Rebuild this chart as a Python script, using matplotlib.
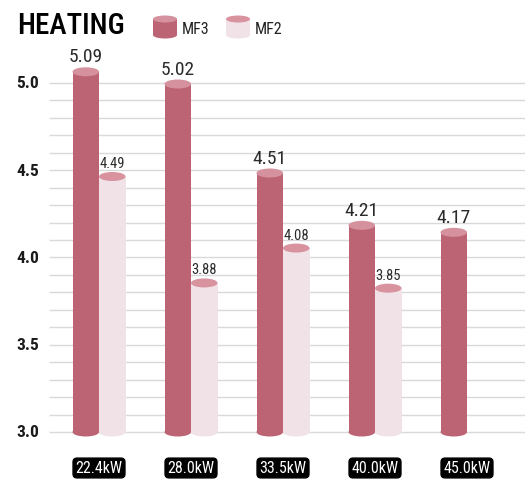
import matplotlib
matplotlib.use("Agg")
import matplotlib.pyplot as plt
from matplotlib import font_manager
from matplotlib.patches import Rectangle, Ellipse
import numpy as np

categories = ["22.4kW", "28.0kW", "33.5kW", "40.0kW", "45.0kW"]
mf3 = [5.09, 5.02, 4.51, 4.21, 4.17]
mf2 = [4.49, 3.88, 4.08, 3.85, None]
series_names = ["MF3", "MF2"]
y_ticks = [3.0, 3.5, 4.0, 4.5, 5.0]

MF3_BODY = "#bd6474"
MF3_TOP = "#d5919d"
MF2_BODY = "#f0e2e7"
MF2_TOP = "#d8939f"
GRID = "#d9d9d9"

# pick a narrow face if the system has one
available = {f.name for f in font_manager.fontManager.ttflist}
narrow = "DejaVu Sans"
for name in ["Roboto Condensed", "Liberation Sans Narrow", "DejaVu Sans Condensed", "Open Sans Condensed"]:
    if name in available:
        narrow = name
        break
plt.rcParams["font.family"] = [narrow, "DejaVu Sans"]

W, H, DPI = 525, 481, 100
fig = plt.figure(figsize=(W / DPI, H / DPI), dpi=DPI)

# plot area in pixel terms
ax_left, ax_right, ax_top, ax_bottom = 49, 525, 40, 450
ax = fig.add_axes([ax_left / W, 1 - ax_bottom / H, (ax_right - ax_left) / W, (ax_bottom - ax_top) / H])

px_per_cat = 92.0
px_per_unit = 174.5
x0_px = 99  # centre of first group
xlim = ((ax_left - x0_px) / px_per_cat, (ax_right - x0_px) / px_per_cat)
ylim = (3.0 - (ax_bottom - 433) / px_per_unit, 5.0 + (84 - ax_top) / px_per_unit)
ax.set_xlim(*xlim)
ax.set_ylim(*ylim)
ax.axis("off")

# horizontal grid every 0.1
for g in np.arange(3.0, 5.0001, 0.1):
    ax.plot(xlim, [g, g], color=GRID, lw=1.0, zorder=0, solid_capstyle="butt")

bar_w = 26.5 / px_per_cat
ell_h = 9.0 / px_per_unit


def cylinder(xc, value, body, top, zorder=2):
    # the top cap's upper edge sits on the value
    top_c = value - ell_h / 2
    ax.add_patch(Ellipse((xc, 3.0), bar_w, ell_h, facecolor=body, edgecolor="none", zorder=zorder))
    ax.add_patch(Rectangle((xc - bar_w / 2, 3.0), bar_w, top_c - 3.0, facecolor=body,
                           edgecolor="none", zorder=zorder))
    ax.add_patch(Ellipse((xc, top_c), bar_w, ell_h, facecolor=top, edgecolor="none", zorder=zorder + 0.1))


x = np.arange(len(categories))
for i, (a, b) in enumerate(zip(mf3, mf2)):
    xa = x[i] - bar_w / 2
    xb = x[i] + bar_w / 2
    cylinder(xa, a, MF3_BODY, MF3_TOP)
    ax.text(xa, a + 2 / px_per_unit, f"{a:.2f}", ha="center", va="bottom",
            fontsize=14, color="#2a2a2a")
    if b is not None:
        cylinder(xb, b, MF2_BODY, MF2_TOP)
        ax.text(xb, b + 2 / px_per_unit, f"{b:.2f}", ha="center", va="bottom",
                fontsize=10.5, color="#2a2a2a")
    ax.text(x[i], ylim[0] - 19 / px_per_unit, categories[i], ha="center", va="center",
            fontsize=11.5, color="white", clip_on=False,
            bbox=dict(boxstyle="round,pad=0.15,rounding_size=0.25", fc="black", ec="black"))

for t in y_ticks:
    ax.text(xlim[0] - 10 / px_per_cat, t, f"{t:.1f}", ha="right", va="center",
            fontsize=12.5, fontweight="bold", color="#1a1a1a")

# title and legend drawn in figure pixels
ov = fig.add_axes([0, 0, 1, 1])
ov.set_xlim(0, W)
ov.set_ylim(H, 0)
ov.axis("off")
ov.text(17, 26, "HEATING", ha="left", va="center", fontsize=21, fontweight="medium", color="black")


def legend_icon(x_left, body, top):
    w, h, eh = 24, 16, 7
    xc = x_left + w / 2
    ov.add_patch(Ellipse((xc, 20 + h), w, eh, facecolor=body, edgecolor="none"))
    ov.add_patch(Rectangle((x_left, 20), w, h, facecolor=body, edgecolor="none"))
    ov.add_patch(Ellipse((xc, 20), w, eh, facecolor=top, edgecolor="none"))


legend_icon(153, MF3_BODY, MF3_TOP)
ov.text(182, 29, series_names[0], ha="left", va="center", fontsize=11.5, color="#222222")
legend_icon(226, MF2_BODY, MF2_TOP)
ov.text(255, 29, series_names[1], ha="left", va="center", fontsize=11.5, color="#222222")

fig.savefig("out.png", dpi=DPI)
